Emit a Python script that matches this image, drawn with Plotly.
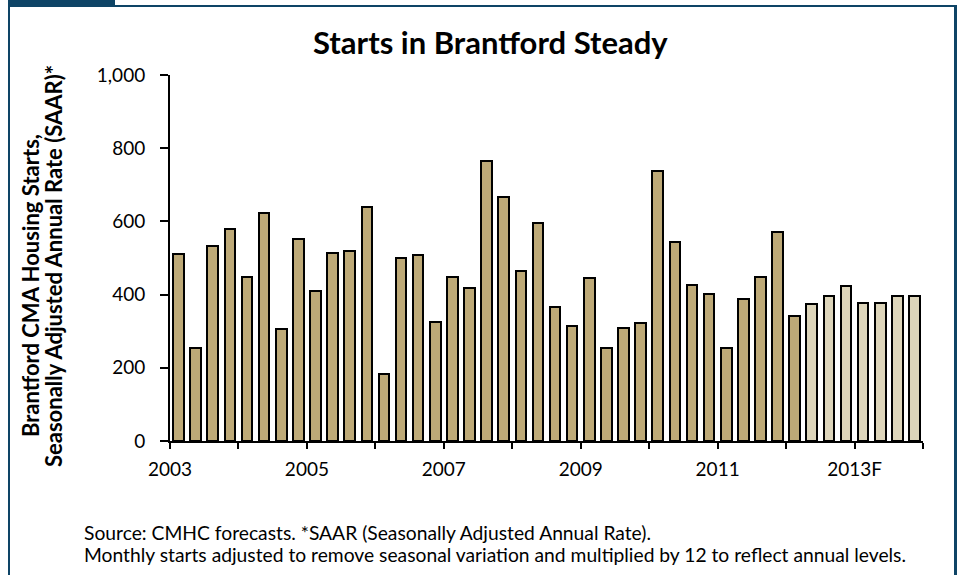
import plotly.graph_objects as go

# Quarterly housing starts, SAAR, 2003 Q1 - 2013 Q4
years = [str(y) for y in range(2003, 2014)]
quarters = ["Q1", "Q2", "Q3", "Q4"]
starts = [
    511, 253, 532, 580,   # 2003
    447, 624, 305, 552,   # 2004
    411, 514, 520, 640,   # 2005
    182, 501, 508, 326,   # 2006
    447, 417, 766, 667,   # 2007
    465, 597, 367, 315,   # 2008
    446, 253, 308, 323,   # 2009
    738, 543, 425, 402,   # 2010
    253, 388, 449, 572,   # 2011
    342, 374, 397, 423,   # 2012
    376, 376, 397, 397,   # 2013
]
first_forecast = 37          # 2012 Q2 onward is forecast
year_labels = ["2003", "", "2005", "", "2007", "", "2009", "", "2011", "", "2013F", ""]
y_ticks = [0, 200, 400, 600, 800, 1000]

ACTUAL = "#bda977"
FORECAST = "#ddd5ba"
FRAME = "#0e4466"
FONT = "Lato"

n = len(starts)
xpos = [i + 0.5 for i in range(n)]
colors = [ACTUAL if i < first_forecast else FORECAST for i in range(n)]
hover = [f"{years[i // 4]} {quarters[i % 4]}" for i in range(n)]

fig = go.Figure(go.Bar(
    x=xpos, y=starts, width=0.62,
    marker=dict(color=colors, line=dict(color="black", width=2)),
    hovertext=hover, hoverinfo="text+y",
))

W, H = 958, 575
L, R, T, B = 170, 35, 75, 134
pw, ph = W - L - R, H - T - B


def px(x):
    return (x - L) / pw


def py(y):
    return (H - B - y) / ph


fig.update_layout(
    width=W, height=H,
    margin=dict(l=L, r=R, t=T, b=B),
    paper_bgcolor="white", plot_bgcolor="white",
    showlegend=False,
    font=dict(family=FONT, color="black", size=19),
    bargap=0,
    xaxis=dict(
        range=[0, n], tickmode="array",
        tickvals=list(range(0, n + 1, 4)), ticktext=year_labels,
        ticks="outside", ticklen=6, tickwidth=2, tickcolor="black",
        showline=True, linecolor="black", linewidth=2,
        showgrid=False, zeroline=False,
        tickfont=dict(size=19), ticklabelstandoff=4,
    ),
    yaxis=dict(
        range=[0, 1000], tickmode="array", tickvals=y_ticks,
        ticktext=[f"{v:,}" for v in y_ticks],
        ticks="outside", ticklen=8, tickwidth=2, tickcolor="black",
        showline=True, linecolor="black", linewidth=2,
        showgrid=False, zeroline=False,
        tickfont=dict(size=19), ticklabelstandoff=11,
    ),
)

note_font = dict(size=19.25)
annotations = [
    dict(text="<b>Starts in Brantford Steady</b>", x=px(490), y=py(42),
         xanchor="center", yanchor="middle", font=dict(size=31)),
    dict(text="<b>Brantford CMA Housing Starts,</b>", x=px(30), y=py(286),
         xanchor="center", yanchor="middle", textangle=-90, font=dict(size=22)),
    dict(text="<b>Seasonally Adjusted Annual Rate (SAAR)*</b>", x=px(53), y=py(266),
         xanchor="center", yanchor="middle", textangle=-90, font=dict(size=22)),
    dict(text="Source: CMHC forecasts. *SAAR (Seasonally Adjusted Annual Rate).",
         x=px(82), y=py(532), xanchor="left", yanchor="middle", font=note_font),
    dict(text="Monthly starts adjusted to remove seasonal variation and multiplied by 12 to reflect annual levels.",
         x=px(82), y=py(554), xanchor="left", yanchor="middle", font=note_font),
]
for a in annotations:
    a.update(xref="paper", yref="paper", showarrow=False)
fig.update_layout(annotations=annotations)

# Panel frame: top rule with a tab at the left, plus side borders
shapes = [
    dict(type="rect", x0=px(8), x1=px(115), y0=py(0), y1=py(7),
         fillcolor=FRAME, line_width=0),
    dict(type="rect", x0=px(8), x1=px(957), y0=py(5), y1=py(7),
         fillcolor=FRAME, line_width=0),
    dict(type="rect", x0=px(8), x1=px(10), y0=py(5), y1=py(575),
         fillcolor=FRAME, line_width=0),
    dict(type="rect", x0=px(954), x1=px(957), y0=py(5), y1=py(575),
         fillcolor=FRAME, line_width=0),
]
for s in shapes:
    s.update(xref="paper", yref="paper", layer="above")
fig.update_layout(shapes=shapes)

fig.write_html("out.html")
